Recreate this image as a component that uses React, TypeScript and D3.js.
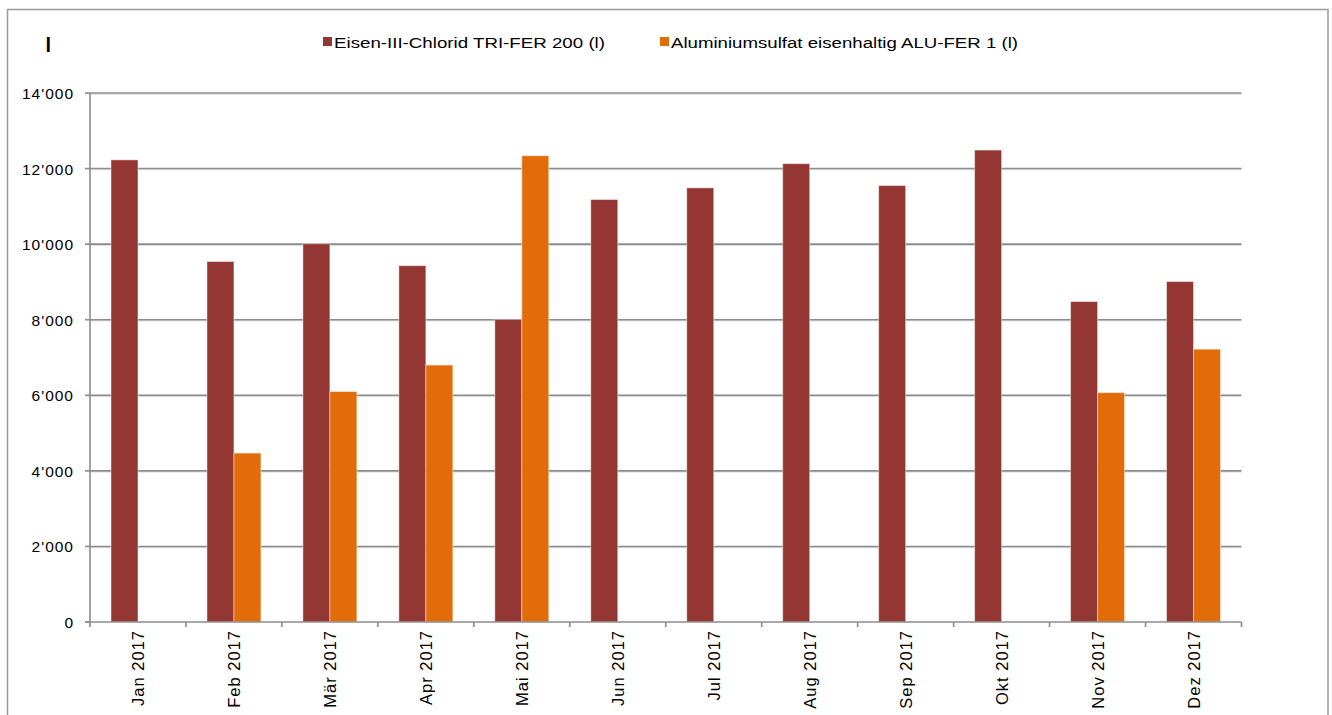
import React, { useEffect } from "react";
import * as d3 from "d3";

// Monthly consumption of precipitants (litres), 2017
const months = [
  "Jan 2017", "Feb 2017", "Mär 2017", "Apr 2017", "Mai 2017", "Jun 2017",
  "Jul 2017", "Aug 2017", "Sep 2017", "Okt 2017", "Nov 2017", "Dez 2017",
];
const seriesNames = [
  "Eisen-III-Chlorid TRI-FER 200 (l)",
  "Aluminiumsulfat eisenhaltig ALU-FER 1 (l)",
];
const eisenChlorid = [12230, 9540, 10010, 9430, 8010, 11180, 11490, 12130, 11550, 12490, 8480, 9010];
const aluFer = [0, 4470, 6100, 6800, 12340, 0, 0, 0, 0, 0, 6070, 7220];
const seriesColors = ["#943634", "#E36C0A"];
const yTicks = [0, 2000, 4000, 6000, 8000, 10000, 12000, 14000];
const unitLabel = "l";

const W = 1332;
const H = 715;
const plot = { left: 90, right: 1241.5, top: 93, bottom: 622 };
const FONT = "'Liberation Sans', Arial, sans-serif";

const fmt = (v: number) => {
  if (v === 0) return "0";
  const s = Math.round(v).toString();
  return s.replace(/\B(?=(\d{3})+(?!\d))/g, "'");
};

export default function App() {
  useEffect(() => {
    document.body.style.margin = "0";
  }, []);

  const x = d3
    .scaleBand<string>()
    .domain(months)
    .range([plot.left, plot.right])
    .paddingInner(0.4375)
    .paddingOuter(0.21875);
  const xs = d3.scaleBand<number>().domain([0, 1]).range([0, x.bandwidth()]);
  const y = d3.scaleLinear().domain([0, 14000]).range([plot.bottom, plot.top]);
  const step = x.step();
  const series = [eisenChlorid, aluFer];
  const axisColor = "#8c8c8c";

  return (
    <svg width={W} height={H} style={{ display: "block", background: "#fff" }}>
      {/* outer frame */}
      <rect x={7.5} y={9.5} width={1320.5} height={720} fill="none" stroke="#9a9a9a" strokeWidth={1.5} />

      {/* unit */}
      <text x={45.5} y={52} fontFamily={FONT} fontSize={20} fontWeight="bold" fill="#000">
        {unitLabel}
      </text>

      {/* legend */}
      <g fontFamily={FONT} fontSize={15.5} fill="#000">
        <rect x={323} y={37} width={9} height={9} fill={seriesColors[0]} />
        <text x={334} y={47.5} textLength={271} lengthAdjust="spacingAndGlyphs">{seriesNames[0]}</text>
        <rect x={660} y={37} width={9} height={9} fill={seriesColors[1]} />
        <text x={671} y={47.5} textLength={347} lengthAdjust="spacingAndGlyphs">{seriesNames[1]}</text>
      </g>

      {/* gridlines */}
      {yTicks.slice(1).map((t) => (
        <g key={"g" + t}>
          <line x1={plot.left} x2={plot.right} y1={y(t) + 1.2} y2={y(t) + 1.2} stroke="#d9d9d9" strokeWidth={1} />
          <line x1={plot.left} x2={plot.right} y1={y(t)} y2={y(t)} stroke={axisColor} strokeWidth={1.6} />
        </g>
      ))}

      {/* y axis */}
      <line x1={plot.left} x2={plot.left} y1={plot.top} y2={plot.bottom} stroke={axisColor} strokeWidth={1.6} />
      {yTicks.map((t) => (
        <g key={"y" + t}>
          <line x1={plot.left - 5} x2={plot.left} y1={y(t)} y2={y(t)} stroke={axisColor} strokeWidth={1.6} />
          <text
            x={74}
            y={y(t) + 6}
            textAnchor="end"
            fontFamily={FONT}
            fontSize={15.5}
            letterSpacing={1}
            fill="#000"
          >
            {fmt(t)}
          </text>
        </g>
      ))}

      {/* bars */}
      {months.map((m, i) => (
        <g key={m} transform={`translate(${x(m)},0)`}>
          {series.map((vals, s) =>
            vals[i] > 0 ? (
              <rect
                key={s}
                x={xs(s)}
                y={y(vals[i])}
                width={xs.bandwidth()}
                height={y(0) - y(vals[i])}
                fill={seriesColors[s]}
                stroke="rgba(255,255,255,0.45)"
                strokeWidth={1}
              />
            ) : null
          )}
        </g>
      ))}

      {/* x axis */}
      <line x1={plot.left - 5} x2={plot.right} y1={plot.bottom} y2={plot.bottom} stroke={axisColor} strokeWidth={1.6} />
      {d3.range(months.length + 1).map((k) => {
        const xx = plot.left + k * step;
        return <line key={"t" + k} x1={xx} x2={xx} y1={plot.bottom} y2={plot.bottom + 5} stroke={axisColor} strokeWidth={1.6} />;
      })}
      {months.map((m) => {
        const cx = (x(m) as number) + x.bandwidth() / 2;
        return (
          <text
            key={"l" + m}
            transform={`translate(${cx + 6},${plot.bottom + 8}) rotate(-90)`}
            textAnchor="end"
            fontFamily={FONT}
            fontSize={16.5}
            letterSpacing={1}
            fill="#000"
          >
            {m}
          </text>
        );
      })}
    </svg>
  );
}
